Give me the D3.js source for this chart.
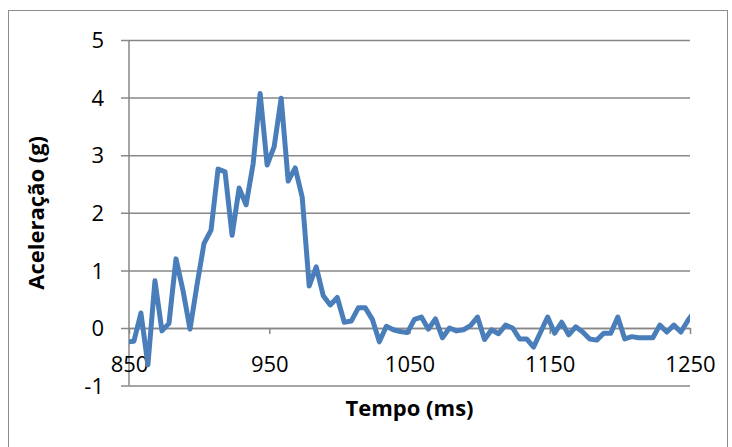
<!DOCTYPE html>
<html>
<head>
<meta charset="utf-8">
<script src="https://cdn.jsdelivr.net/npm/d3@7"></script>
<style>
  html, body { margin: 0; padding: 0; background: #fff; }
  svg { display: block; }
</style>
</head>
<body>
<svg id="chart" width="732" height="447"></svg>
<script>
// Sample times (ms)
const times = [
  848.5, 853.5, 858.5, 863.5, 868.5, 873.5, 878.5, 883.5, 888.5, 893.5,
  898.5, 903.5, 908.5, 913.5, 918.5, 923.5, 928.5, 933.5, 938.5, 943.5,
  948.5, 953.5, 958.5, 963.5, 968.5, 973.5, 978.5, 983.5, 988.5, 993.5,
  998.5, 1003.5, 1008.5, 1013.5, 1018.5, 1023.5, 1028.5, 1033.5, 1038.5, 1043.5,
  1048.5, 1053.5, 1058.5, 1063.5, 1068.5, 1073.5, 1078.5, 1083.5, 1088.5, 1093.5,
  1098.5, 1103.5, 1108.5, 1113.5, 1118.5, 1123.5, 1128.5, 1133.5, 1138.5, 1143.5,
  1148.5, 1153.5, 1158.5, 1163.5, 1168.5, 1173.5, 1178.5, 1183.5, 1188.5, 1193.5,
  1198.5, 1203.5, 1208.5, 1213.5, 1218.5, 1223.5, 1228.5, 1233.5, 1238.5, 1243.5,
  1248.5, 1253.5
];

// Acceleration (g)
const accel = [
  -0.24, -0.23, 0.26, -0.64, 0.82, -0.05, 0.08, 1.20, 0.65, -0.02,
  0.75, 1.47, 1.70, 2.76, 2.71, 1.61, 2.43, 2.14, 2.85, 4.07,
  2.83, 3.15, 3.99, 2.55, 2.78, 2.27, 0.73, 1.06, 0.56, 0.40,
  0.53, 0.10, 0.12, 0.35, 0.35, 0.15, -0.24, 0.03, -0.03, -0.06,
  -0.08, 0.15, 0.19, -0.02, 0.16, -0.17, 0.00, -0.05, -0.03, 0.04,
  0.19, -0.20, -0.03, -0.10, 0.05, 0.00, -0.19, -0.19, -0.33, -0.07,
  0.19, -0.09, 0.10, -0.12, 0.02, -0.07, -0.19, -0.21, -0.09, -0.09,
  0.19, -0.19, -0.15, -0.17, -0.17, -0.17, 0.05, -0.07, 0.05, -0.07,
  0.13, 0.30
];

const xTicks = [850, 950, 1050, 1150, 1250];
const yTicks = [-1, 0, 1, 2, 3, 4, 5];
const xTitle = "Tempo (ms)";
const yTitle = "Aceleração (g)";

const svg = d3.select("#chart");
const plotLeft = 129, plotRight = 690, plotTop = 40, plotBottom = 385.6;
const grid = "#878787";
const tickFont = "'Open Sans', 'Noto Sans', sans-serif";

const x = d3.scaleLinear().domain([850, 1250]).range([plotLeft, plotRight]);
const y = d3.scaleLinear().domain([-1, 5]).range([plotBottom, plotTop]);

// Chart frame
svg.append("rect")
  .attr("x", 8.5).attr("y", 10.5)
  .attr("width", 719).attr("height", 460)
  .attr("fill", "#fff").attr("stroke", "#8c8c8c").attr("stroke-width", 1);

// Horizontal gridlines with left tick marks
const gy = svg.append("g")
  .attr("transform", `translate(${plotLeft},0)`)
  .call(d3.axisLeft(y).tickValues(yTicks).tickFormat(d => String(d))
    .tickSizeInner(8).tickSizeOuter(0));
gy.select(".domain").remove();
gy.selectAll(".tick line").attr("x1", plotRight - plotLeft).attr("x2", -8)
  .attr("stroke", grid).attr("stroke-width", 1.5);
gy.selectAll(".tick text")
  .attr("x", -25).attr("dy", "0.35em")
  .style("font-family", tickFont).style("font-size", "22px").attr("fill", "#000");

// Vertical value axis line
svg.append("line")
  .attr("x1", plotLeft).attr("x2", plotLeft).attr("y1", plotTop).attr("y2", plotBottom)
  .attr("stroke", grid).attr("stroke-width", 1.5);

// Category axis crossing at zero
const gx = svg.append("g")
  .attr("transform", `translate(0,${y(0)})`)
  .call(d3.axisBottom(x).tickValues(xTicks).tickFormat(d3.format("d")).tickSizeInner(6).tickSizeOuter(0));
gx.select(".domain").attr("stroke", grid).attr("stroke-width", 1.5);
gx.selectAll(".tick line").attr("stroke", grid).attr("stroke-width", 1.5);
gx.selectAll(".tick text")
  .attr("y", 36).attr("dy", "0.35em")
  .style("font-family", tickFont).style("font-size", "22px").attr("fill", "#000");

// Data line, clipped to plot area
svg.append("clipPath").attr("id", "plotClip")
  .append("rect").attr("x", plotLeft).attr("y", plotTop - 10)
  .attr("width", plotRight - plotLeft).attr("height", plotBottom - plotTop + 20);

const line = d3.line()
  .x((d, i) => x(times[i]))
  .y(d => y(d));

svg.append("path")
  .datum(accel)
  .attr("clip-path", "url(#plotClip)")
  .attr("d", line)
  .attr("fill", "none")
  .attr("stroke", "#4a7ebb")
  .attr("stroke-width", 5)
  .attr("stroke-linejoin", "round")
  .attr("stroke-linecap", "round");

// Axis titles
svg.append("text")
  .attr("x", (plotLeft + plotRight) / 2).attr("y", 408).attr("dy", "0.35em")
  .attr("text-anchor", "middle")
  .style("font-family", tickFont).style("font-size", "22px").style("font-weight", "bold")
  .text(xTitle);

svg.append("text")
  .attr("transform", `translate(36,${(plotTop + plotBottom) / 2}) rotate(-90)`)
  .attr("dy", "0.35em")
  .attr("text-anchor", "middle")
  .style("font-family", tickFont).style("font-size", "22px").style("font-weight", "bold")
  .text(yTitle);
</script>
</body>
</html>
